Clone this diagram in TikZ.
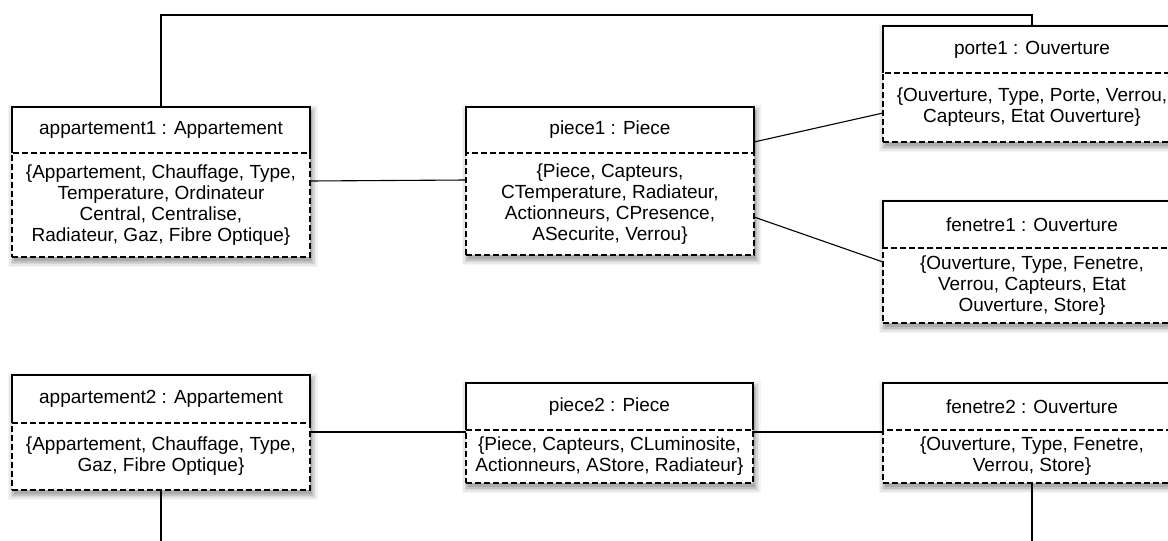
\documentclass[tikz,border=0pt]{standalone}
\usepackage{fontspec}
\setmainfont{Liberation Sans}
\usetikzlibrary{calc,backgrounds}
\newcommand\objfont{\fontsize{19}{21}\selectfont}
\newcommand\objshadow[2]{%
  \foreach \e/\o in {6/0.04,4.5/0.05,3/0.07,1.5/0.09,0/0.12}{%
    \fill[black,opacity=\o] ([shift={({-\e pt+1.5pt},{\e pt-4pt})}]#1.north west) rectangle ([shift={({\e pt+1.5pt},{-\e pt-4pt})}]#2.south east);
  }}
\tikzset{
  hdr/.style={inner sep=0pt, outer sep=0pt, anchor=north west, align=center, fill=white, font=\objfont},
  bdy/.style={draw, line width=1.2pt, dash pattern=on 6pt off 3pt, inner sep=0pt, outer sep=0pt, anchor=north west, align=center, fill=white, font=\objfont},
  hline/.style={draw, line width=1.2pt},
  conn/.style={draw, line width=1.1pt},
}
\begin{document}
\begin{tikzpicture}[x=1pt,y=-1pt]
\useasboundingbox (0,0) rectangle (1168,541);
\clip (0,0) rectangle (1168,541);

% headers
\node[hdr, minimum width=298pt, minimum height=46pt] (a1h) at (12,107) {appartement1 : Appartement};
\node[hdr, minimum width=288pt, minimum height=46pt] (p1h) at (466,107) {piece1 : Piece};
\node[hdr, minimum width=298pt, minimum height=47pt] (po1h) at (883,26) {porte1 : Ouverture};
\node[hdr, minimum width=298pt, minimum height=47pt] (f1h) at (883,201) {fenetre1 : Ouverture};
\node[hdr, minimum width=298pt, minimum height=48pt] (a2h) at (12,375) {appartement2 : Appartement};
\node[hdr, minimum width=287pt, minimum height=47pt] (p2h) at (466,383) {piece2 : Piece};
\node[hdr, minimum width=298pt, minimum height=47pt] (f2h) at (883,383) {fenetre2 : Ouverture};

% bodies
\node[bdy, minimum width=298pt, minimum height=104pt] (a1b) at (a1h.south west) {\{Appartement, Chauffage, Type,\\Temperature, Ordinateur\\Central, Centralise,\\Radiateur, Gaz, Fibre Optique\}};
\node[bdy, minimum width=288pt, minimum height=102pt] (p1b) at (p1h.south west) {\{Piece, Capteurs,\\CTemperature, Radiateur,\\Actionneurs, CPresence,\\ASecurite, Verrou\}};
\node[bdy, minimum width=298pt, minimum height=69pt] (po1b) at (po1h.south west) {\{Ouverture, Type, Porte, Verrou,\\Capteurs, Etat Ouverture\}};
\node[bdy, minimum width=298pt, minimum height=75pt] (f1b) at (f1h.south west) {\{Ouverture, Type, Fenetre,\\Verrou, Capteurs, Etat\\Ouverture, Store\}};
\node[bdy, minimum width=298pt, minimum height=67pt] (a2b) at (a2h.south west) {\{Appartement, Chauffage, Type,\\Gaz, Fibre Optique\}};
\node[bdy, minimum width=287pt, minimum height=53pt] (p2b) at (p2h.south west) {\{Piece, Capteurs, CLuminosite,\\Actionneurs, AStore, Radiateur\}};
\node[bdy, minimum width=298pt, minimum height=53pt] (f2b) at (f2h.south west) {\{Ouverture, Type, Fenetre,\\Verrou, Store\}};

% shadows
\begin{pgfonlayer}{background}
\fill[white] (0,0) rectangle (1168,541);
\objshadow{a1h}{a1b}
\objshadow{p1h}{p1b}
\objshadow{po1h}{po1b}
\objshadow{f1h}{f1b}
\objshadow{a2h}{a2b}
\objshadow{p2h}{p2b}
\objshadow{f2h}{f2b}
\end{pgfonlayer}

% header outlines
\foreach \h in {a1h,p1h,po1h,f1h,a2h,p2h,f2h}{
  \draw[hline] (\h.south west) |- (\h.north east) -- (\h.south east);
}

% connectors
\draw[conn] ([yshift=24pt]a1b.east) -- ([yshift=24pt]p1b.west);
\draw[conn] ([yshift=-12pt]p1h.east) -- ([yshift=-5.5pt]po1b.west);
\draw[conn] ([yshift=-13pt]p1b.east) -- ([yshift=23.5pt]f1b.west);
\draw[conn] (a1h.north) |- ([yshift=11pt]po1h.north) -- (po1h.north);
\draw[conn] ([yshift=-9pt]a2b.north east) -- ([yshift=-9pt]a2b.north east -| p2b.west);
\draw[conn] ([yshift=-2pt]p2b.north east) -- ([yshift=-2pt]p2b.north east -| f2b.west);
\coordinate (a2end) at (161,545);
\coordinate (f2end) at (1032,545);
\draw[conn] (a2b.south) -- (a2b.south |- a2end);
\draw[conn] (f2b.south) -- (f2b.south |- f2end);
\end{tikzpicture}
\end{document}
